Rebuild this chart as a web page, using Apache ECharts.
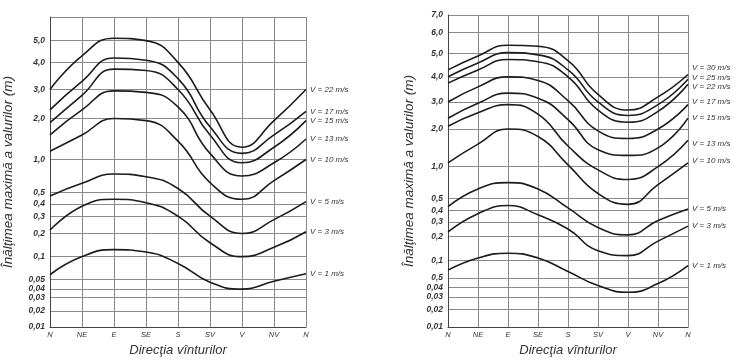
<!DOCTYPE html>
<html>
<head>
<meta charset="utf-8">
<script src="https://cdn.jsdelivr.net/npm/echarts@6/dist/echarts.min.js"></script>
<style>
  html, body { margin: 0; background: #fff; }
  #chart { width: 747px; height: 362px; }
</style>
</head>
<body>
<div id="chart"></div>
<script>
// wind directions (Romanian), the circle closes back on N
var directions = ["N", "NE", "E", "SE", "S", "SV", "V", "NV", "N"];

// hand drawn vertical scale of each panel: tick value -> fraction of axis height
var leftTickValues = [0.01, 0.02, 0.03, 0.04, 0.05, 0.1, 0.2, 0.3, 0.4, 0.5, 1, 2, 3, 4, 5, 6];
var leftTickFrac = [0, 0.0525, 0.0954, 0.1224, 0.1542, 0.2273, 0.302, 0.3577, 0.3975, 0.434, 0.5405, 0.6725, 0.7663, 0.8537, 0.9237, 1];
var leftTickLabels = ["0,01", "0,02", "0,03", "0,04", "0,05", "0,1", "0,2", "0,3", "0,4", "0,5", "1,0", "2,0", "3,0", "4,0", "5,0", ""];

var rightTickValues = [0.01, 0.02, 0.03, 0.04, 0.05, 0.1, 0.2, 0.3, 0.4, 0.5, 1, 2, 3, 4, 5, 6, 7];
var rightTickFrac = [0, 0.0557, 0.096, 0.127, 0.158, 0.2136, 0.291, 0.3375, 0.3746, 0.4118, 0.514, 0.6347, 0.7214, 0.8019, 0.876, 0.944, 1];
var rightTickLabels = ["0,01", "0,02", "0,03", "0,04", "0,5", "0,1", "0,2", "0,3", "0,4", "0,5", "1,0", "2,0", "3,0", "4,0", "5,0", "6,0", "7,0"];

// left panel, wave height (m) per direction
var leftNames = ["V = 22 m/s", "V = 17 m/s", "V = 15 m/s", "V = 13 m/s", "V = 10 m/s", "V = 5 m/s", "V = 3 m/s", "V = 1 m/s"];
var left22 = [3.0, 4.3, 5.1, 5.0, 4.0, 2.3, 1.3, 1.95, 3.0];
var left17 = [2.3, 3.3, 4.2, 4.1, 3.4, 1.8, 1.15, 1.6, 2.25];
var left15 = [1.9, 2.8, 3.75, 3.7, 3.0, 1.6, 0.95, 1.3, 1.95];
var left13 = [1.6, 2.3, 2.95, 2.9, 2.4, 1.15, 0.75, 0.95, 1.5];
var left10 = [1.2, 1.6, 2.0, 1.95, 1.45, 0.65, 0.44, 0.68, 1.0];
var left5 = [0.47, 0.64, 0.78, 0.74, 0.56, 0.3, 0.2, 0.28, 0.42];
var left3 = [0.22, 0.38, 0.44, 0.41, 0.3, 0.16, 0.1, 0.14, 0.21];
var left1 = [0.06, 0.1, 0.13, 0.12, 0.085, 0.047, 0.04, 0.048, 0.062];

// right panel
var rightNames = ["V = 30 m/s", "V = 25 m/s", "V = 22 m/s", "V = 17 m/s", "V = 15 m/s", "V = 13 m/s", "V = 10 m/s", "V = 5 m/s", "V = 3 m/s", "V = 1 m/s"];
var right30 = [4.3, 4.9, 5.4, 5.35, 4.7, 3.3, 2.7, 3.2, 4.1];
var right25 = [4.0, 4.6, 5.05, 4.95, 4.3, 3.0, 2.5, 2.9, 3.9];
var right22 = [3.75, 4.3, 4.75, 4.65, 4.0, 2.7, 2.25, 2.65, 3.7];
var right17 = [3.0, 3.6, 4.0, 3.85, 3.05, 1.95, 1.75, 2.0, 2.9];
var right15 = [2.4, 2.95, 3.35, 3.15, 2.35, 1.45, 1.3, 1.5, 2.4];
var right13 = [2.1, 2.6, 2.9, 2.55, 1.55, 0.95, 0.8, 1.0, 1.7];
var right10 = [1.1, 1.6, 2.0, 1.8, 1.05, 0.58, 0.45, 0.72, 1.1];
var right5 = [0.43, 0.65, 0.75, 0.65, 0.42, 0.26, 0.21, 0.31, 0.41];
var right3 = [0.23, 0.37, 0.44, 0.36, 0.25, 0.14, 0.12, 0.18, 0.27];
var right1 = [0.072, 0.11, 0.13, 0.11, 0.068, 0.042, 0.035, 0.044, 0.085];

var leftSeries = [left22, left17, left15, left13, left10, left5, left3, left1];
var rightSeries = [right30, right25, right22, right17, right15, right13, right10, right5, right3, right1];
// small vertical nudges of the end labels where they crowd
var rightLabelShift = [-7, -2, 2, -3, 0, 3, -2, 0, 0, 0];

// piecewise linear map of a value onto the drawn scale
function toFrac(v, vals, frac) {
  for (var i = 1; i < vals.length; i++) {
    if (v <= vals[i]) {
      var t = (v - vals[i - 1]) / (vals[i] - vals[i - 1]);
      return frac[i - 1] + t * (frac[i] - frac[i - 1]);
    }
  }
  return frac[frac.length - 1];
}

function labelFor(frac, labels) {
  return function (value) {
    for (var i = 0; i < frac.length; i++) {
      if (Math.abs(frac[i] - value) < 1e-6) return labels[i];
    }
    return "";
  };
}

var ink = "#1c1c1c";
var gridColor = "#8a8a8a";
var font = "Liberation Sans";

function xAxisFor(idx) {
  return {
    type: "category",
    gridIndex: idx,
    data: directions,
    boundaryGap: false,
    name: "Direcţia vînturilor",
    nameLocation: "middle",
    nameGap: 15,
    nameTextStyle: { fontFamily: font, fontStyle: "italic", fontSize: 13, color: "#333" },
    axisLine: { lineStyle: { color: "#444", width: 1 } },
    axisTick: { show: false },
    axisLabel: { interval: 0, margin: 4, fontFamily: font, fontStyle: "italic", fontSize: 7.5, color: "#333" },
    splitLine: { show: true, interval: 0, lineStyle: { color: gridColor, width: 1 } }
  };
}

function yAxisFor(idx, frac, labels, gap) {
  return {
    type: "value",
    gridIndex: idx,
    min: 0,
    max: 1,
    name: "Înălţimea maximă a valurilor (m)",
    nameLocation: "middle",
    nameRotate: 90,
    nameGap: gap,
    nameTextStyle: { fontFamily: font, fontStyle: "italic", fontSize: 13.5, color: "#333" },
    axisLine: { show: true, lineStyle: { color: "#444", width: 1 } },
    axisTick: { show: false, customValues: frac },
    axisLabel: {
      customValues: frac,
      formatter: labelFor(frac, labels),
      margin: 5,
      fontFamily: font,
      fontStyle: "italic",
      fontWeight: "bold",
      fontSize: 8.5,
      color: "#333"
    },
    splitLine: { show: true, lineStyle: { color: gridColor, width: 1 } }
  };
}

function buildSeries(list, names, idx, vals, frac, shifts) {
  return list.map(function (arr, i) {
    return {
      type: "line",
      name: names[i],
      xAxisIndex: idx,
      yAxisIndex: idx,
      data: arr.map(function (v) { return toFrac(v, vals, frac); }),
      smooth: 0.5,
      symbol: "none",
      silent: true,
      animation: false,
      lineStyle: { color: ink, width: 1.6 },
      endLabel: {
        show: true,
        formatter: names[i],
        distance: 4,
        offset: [0, shifts ? shifts[i] : 0],
        fontFamily: font,
        fontStyle: "italic",
        fontSize: 8,
        color: "#333"
      }
    };
  });
}

var chart = echarts.init(document.getElementById("chart"), null, { renderer: "canvas" });

var option = {
  backgroundColor: "#ffffff",
  animation: false,
  grid: [
    { left: 50, top: 17, width: 256, height: 314.5 },
    { left: 448, top: 15, width: 240, height: 323 }
  ],
  xAxis: [xAxisFor(0), xAxisFor(1)],
  yAxis: [
    yAxisFor(0, leftTickFrac, leftTickLabels, 35),
    yAxisFor(1, rightTickFrac, rightTickLabels, 32)
  ],
  series: buildSeries(leftSeries, leftNames, 0, leftTickValues, leftTickFrac, null)
    .concat(buildSeries(rightSeries, rightNames, 1, rightTickValues, rightTickFrac, rightLabelShift))
};

chart.setOption(option);
</script>
</body>
</html>
